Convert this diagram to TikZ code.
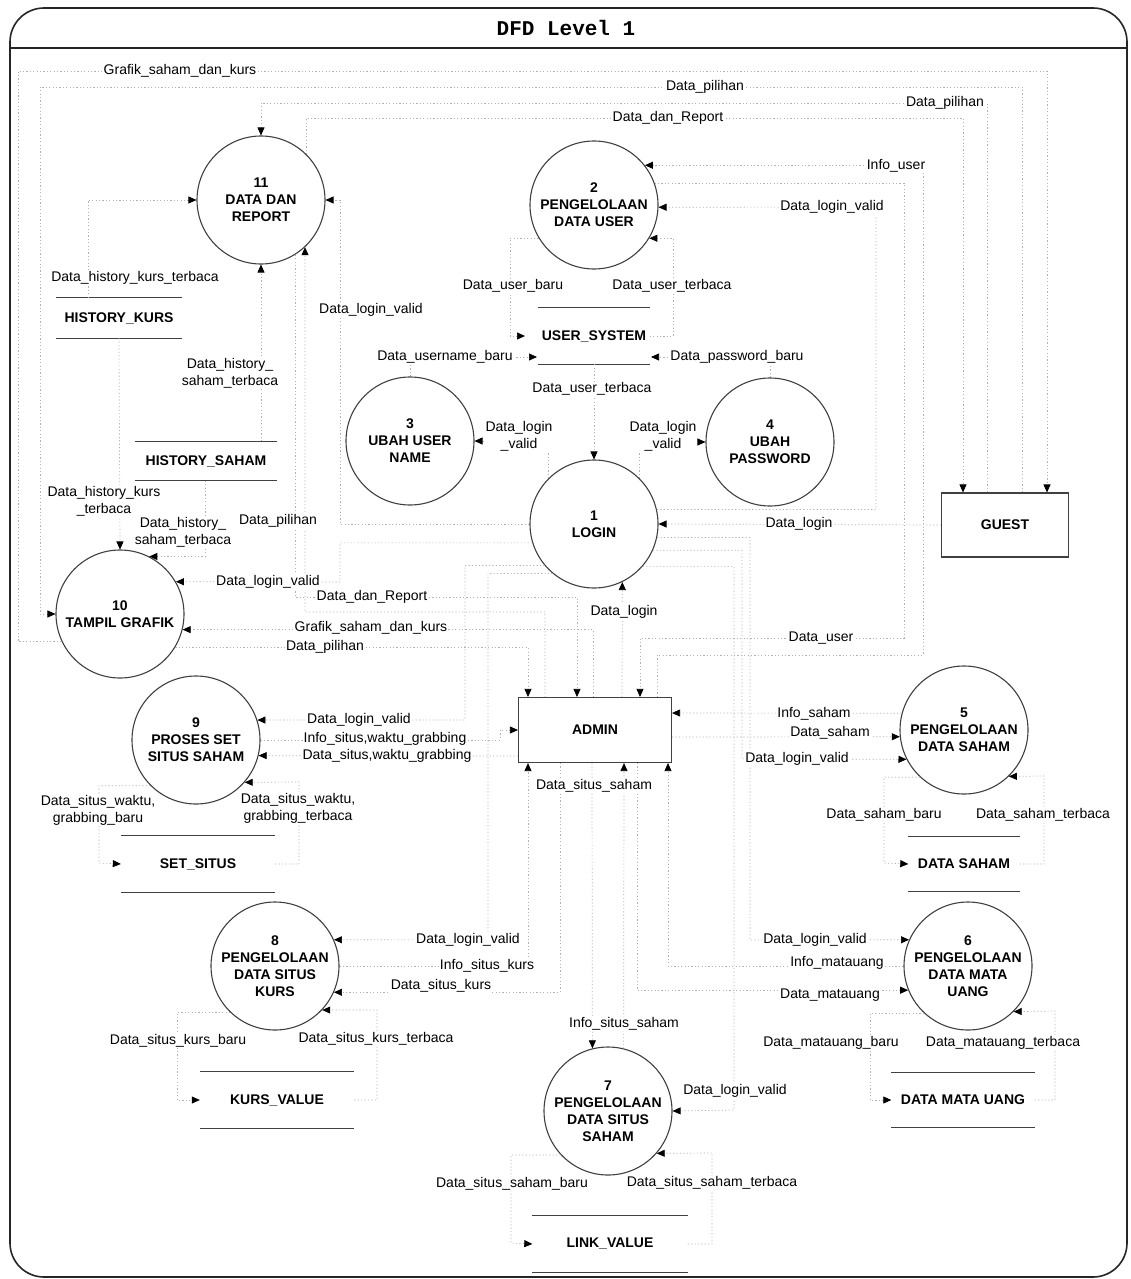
\documentclass[tikz,border=0pt]{standalone}
\usepackage{fontspec}
\setmainfont{Liberation Sans}
\newfontfamily\titlefont{Liberation Mono}
\usetikzlibrary{arrows.meta}
\newcommand{\dfdfont}{\fontsize{14}{17}\selectfont}
\tikzset{
  proc/.style={circle,draw=black!75,line width=1.1pt,minimum size=128pt,inner sep=0pt,align=center,font=\dfdfont\bfseries},
  entity/.style={rectangle,draw=black!75,line width=1.1pt,font=\dfdfont\bfseries},
  store/.style={inner sep=0pt,font=\dfdfont\bfseries},
  storeline/.style={draw=black!75,line width=0.9pt},
  flow/.style={draw=gray!60,line width=0.7pt,dash pattern=on 1.2pt off 2.2pt},
  flowarr/.style={flow,-{Triangle[length=8pt,width=7pt,color=black]}},
  flowlbl/.style={fill=white,inner sep=1pt,align=center,font=\dfdfont},
}
\begin{document}
\begin{tikzpicture}[x=1pt,y=-1pt]
\useasboundingbox (0,0) rectangle (1130,1279);
\draw[line width=1.6pt,black!85,rounded corners=34pt] (10,8) rectangle (1127,1277);
\draw[line width=1.6pt,black!85] (10,48) -- (1127,48);
\node (title) at (566,28) {\titlefont\bfseries\fontsize{21}{24}\selectfont DFD Level 1};

\node[proc] (p11) at (261,200) {11\\DATA DAN\\REPORT};
\node[proc] (p2) at (594,205) {2\\PENGELOLAAN\\DATA USER};
\node[proc] (p3) at (410,441) {3\\UBAH USER\\NAME};
\node[proc] (p4) at (770,442) {4\\UBAH\\PASSWORD};
\node[proc] (p1) at (594,524) {1\\LOGIN};
\node[proc] (p10) at (120,614) {10\\TAMPIL GRAFIK};
\node[proc] (p9) at (196,740) {9\\PROSES SET\\SITUS SAHAM};
\node[proc] (p5) at (964,730) {5\\PENGELOLAAN\\DATA SAHAM};
\node[proc] (p6) at (968,966) {6\\PENGELOLAAN\\DATA MATA\\UANG};
\node[proc] (p8) at (275,966) {8\\PENGELOLAAN\\DATA SITUS\\KURS};
\node[proc] (p7) at (608,1111) {7\\PENGELOLAAN\\DATA SITUS\\SAHAM};

\node[entity,minimum width=127pt,minimum height=64pt] (guest) at (1005,525) {GUEST};
\node[entity,minimum width=153pt,minimum height=65pt] (admin) at (595,730) {ADMIN};

\node[store,minimum width=125pt,minimum height=40pt] (sHK) at (119,318) {HISTORY\_KURS};
\node[store,minimum width=142pt,minimum height=39pt] (sHSa) at (206,461) {HISTORY\_SAHAM};
\node[store,minimum width=111pt,minimum height=56pt] (sUS) at (594,336) {USER\_SYSTEM};
\node[store,minimum width=154pt,minimum height=56pt] (sSS) at (198,864) {SET\_SITUS};
\node[store,minimum width=111pt,minimum height=55pt] (sDS) at (964,864) {DATA SAHAM};
\node[store,minimum width=143pt,minimum height=55pt] (sDM) at (963,1100) {DATA MATA UANG};
\node[store,minimum width=154pt,minimum height=56pt] (sKV) at (277,1100) {KURS\_VALUE};
\node[store,minimum width=155pt,minimum height=56pt] (sLV) at (610,1244) {LINK\_VALUE};
\foreach \s in {sHK,sHSa,sUS,sSS,sDS,sDM,sKV,sLV}
  \draw[storeline] (\s.north west) -- (\s.north east) (\s.south west) -- (\s.south east);

\coordinate (usIn) at (525,336);
\coordinate (usBL) at (537,357);
\coordinate (usBR) at (651,357);

\draw[flowarr] (p10.205) -| (18,71) -| (1047,0 |- guest.north);
\draw[flowarr] (1022,0 |- guest.north) |- (40,87) |- (p10.west);
\draw[flowarr] (987,0 |- guest.north) |- (261,103) -- (p11.north);
\draw[flowarr] (p11.45) |- (963,118) -- (963,0 |- guest.north);

\draw[flowarr] (88,0 |- sHK.north) |- (p11.west);
\draw[flowarr] (sHK.south) -- (p10.north);
\draw[flowarr] (205,0 |- sHSa.south) |- (p10.63);
\draw[flowarr] (261,0 |- sHSa.north) -- (p11.south);

\draw[flowarr] (p2.211) -| (510,336) -- (usIn);
\draw[flowarr] (sUS.east) -- (673,336) |- (p2.-31);
\draw[flowarr] (p3.north) |- (usBL);
\draw[flowarr] (p4.north) |- (usBR);
\draw[flowarr] (sUS.south) -- (p1.north);

\draw[flowarr] (guest.west) -- (p1.east);
\draw[flowarr] (622,0 |- admin.north) -- (p1.-64);
\draw[flowarr] (p1.west) -| (340,200) -- (p11.east);
\draw[flowarr] (p1.197) -| (340,582) -- (p10.30);
\draw[flowarr] (p1.13) -| (876,207) -- (p2.-2);
\draw[flowarr] (p1.135) |- (p3.east);
\draw[flowarr] (p1.45) |- (p4.west);
\draw[flowarr] (p1.220) -| (465,720) -- (p9.18);
\draw[flowarr] (p1.230) -| (488,940) -- (p8.24);
\draw[flowarr] (p1.-24) -| (742,759) -- (p5.207);
\draw[flowarr] (p1.-12) -| (750,940) -- (p6.156);
\draw[flowarr] (p1.-41) -| (734,1110) -- (p7.east);

\draw[flowarr] (p2.20) -| (904,638) -| (640,0 |- admin.north);
\draw[flowarr] (657,0 |- admin.north) |- (923,655) |- (p2.38);
\draw[flowarr] (p11.-58) |- (577,597) -- (577,0 |- admin.north);
\draw[flowarr] (545,0 |- admin.north) |- (305,612) -- (p11.-47);
\draw[flowarr] (593,0 |- admin.north) |- (p10.-14);
\draw[flowarr] (p10.-31) -| (528,0 |- admin.north);

\draw[flowarr] (p9.east) -- (500,740) |- (admin.west);
\draw[flowarr] (admin.west |- 0,756) -- (p9.-14);
\draw[flowarr] (p9.225) -| (99,863) -- (sSS.west);
\draw[flowarr] (sSS.east) -| (299,782) -- (p9.-41);

\draw[flowarr] (p8.east) -| (528,0 |- admin.south);
\draw[flowarr] (560,0 |- admin.south) |- (p8.-24);
\draw[flowarr] (p8.226) -| (177,1100) -- (sKV.west);
\draw[flowarr] (sKV.east) -| (377,1010) -- (p8.-43);

\draw[flowarr] (592,0 |- admin.south) -- (p7.104);
\draw[flowarr] (p7.76) -- (624,0 |- admin.south);
\draw[flowarr] (p7.223) -| (511,1243) -- (sLV.west);
\draw[flowarr] (sLV.east) -| (712,1153) -- (p7.-41);

\draw[flowarr] (p5.165) -- (admin.east |- 0,713);
\draw[flowarr] (admin.east |- 0,737) -- (p5.186);
\draw[flowarr] (p5.227) -| (884,863) -- (sDS.west);
\draw[flowarr] (sDS.east) -| (1044,776) -- (p5.-46);

\draw[flowarr] (p6.west) -| (668,0 |- admin.south);
\draw[flowarr] (637,0 |- admin.south) |- (p6.202);
\draw[flowarr] (p6.227) -| (870,1100) -- (sDM.west);
\draw[flowarr] (sDM.east) -| (1055,1011) -- (p6.-45);

\node[flowlbl] (lGrafikTop) at (180,71) {Grafik\_saham\_dan\_kurs};
\node[flowlbl] (lPilihanA) at (705,87) {Data\_pilihan};
\node[flowlbl] (lPilihanB) at (945,103) {Data\_pilihan};
\node[flowlbl] (lReportTop) at (668,118) {Data\_dan\_Report};
\node[flowlbl] (lInfoUser) at (896,166) {Info\_user};
\node[flowlbl] (lValid2) at (832,207) {Data\_login\_valid};
\node[flowlbl] (lUserBaru) at (513,286) {Data\_user\_baru};
\node[flowlbl] (lUserBaca) at (672,286) {Data\_user\_terbaca};
\node[flowlbl] (lValid11) at (371,310) {Data\_login\_valid};
\node[flowlbl] (lHKbaca) at (135,278) {Data\_history\_kurs\_terbaca};
\node[flowlbl] (lHSbaca) at (230,373) {Data\_history\_\\saham\_terbaca};
\node[flowlbl] (lUname) at (445,357) {Data\_username\_baru};
\node[flowlbl] (lPass) at (737,357) {Data\_password\_baru};
\node[flowlbl] (lUserBaca2) at (592,389) {Data\_user\_terbaca};
\node[flowlbl] (lValid3) at (519,436) {Data\_login\\\_valid};
\node[flowlbl] (lValid4) at (663,436) {Data\_login\\\_valid};
\node[flowlbl] (lHKbaca2) at (104,501) {Data\_history\_kurs\\\_terbaca};
\node[flowlbl] (lHSbaca2) at (183,532) {Data\_history\_\\saham\_terbaca};
\node[flowlbl] (lPilihanC) at (278,521) {Data\_pilihan};
\node[flowlbl] (lLogin) at (799,524) {Data\_login};
\node[flowlbl] (lValid10) at (268,582) {Data\_login\_valid};
\node[flowlbl] (lReport) at (372,597) {Data\_dan\_Report};
\node[flowlbl] (lGrafik) at (371,628) {Grafik\_saham\_dan\_kurs};
\node[flowlbl] (lPilihanD) at (325,647) {Data\_pilihan};
\node[flowlbl] (lLogin2) at (624,612) {Data\_login};
\node[flowlbl] (lUser) at (821,638) {Data\_user};
\node[flowlbl] (lValid9) at (359,720) {Data\_login\_valid};
\node[flowlbl] (lInfoSitus) at (385,739) {Info\_situs,waktu\_grabbing};
\node[flowlbl] (lDataSitus) at (387,756) {Data\_situs,waktu\_grabbing};
\node[flowlbl] (lSitusBaru) at (98,810) {Data\_situs\_waktu,\\grabbing\_baru};
\node[flowlbl] (lSitusBaca) at (298,808) {Data\_situs\_waktu,\\grabbing\_terbaca};
\node[flowlbl] (lSitusSaham) at (594,786) {Data\_situs\_saham};
\node[flowlbl] (lInfoSaham) at (814,714) {Info\_saham};
\node[flowlbl] (lSaham) at (830,733) {Data\_saham};
\node[flowlbl] (lValid5) at (797,759) {Data\_login\_valid};
\node[flowlbl] (lSahamBaru) at (884,815) {Data\_saham\_baru};
\node[flowlbl] (lSahamBaca) at (1043,815) {Data\_saham\_terbaca};
\node[flowlbl] (lValid6) at (815,940) {Data\_login\_valid};
\node[flowlbl] (lInfoMU) at (837,963) {Info\_matauang};
\node[flowlbl] (lMU) at (830,995) {Data\_matauang};
\node[flowlbl] (lMUbaru) at (831,1043) {Data\_matauang\_baru};
\node[flowlbl] (lMUbaca) at (1003,1043) {Data\_matauang\_terbaca};
\node[flowlbl] (lValid8) at (468,940) {Data\_login\_valid};
\node[flowlbl] (lInfoKurs) at (487,966) {Info\_situs\_kurs};
\node[flowlbl] (lKurs) at (441,986) {Data\_situs\_kurs};
\node[flowlbl] (lKursBaru) at (178,1041) {Data\_situs\_kurs\_baru};
\node[flowlbl] (lKursBaca) at (376,1039) {Data\_situs\_kurs\_terbaca};
\node[flowlbl] (lInfoSS) at (624,1024) {Info\_situs\_saham};
\node[flowlbl] (lValid7) at (735,1091) {Data\_login\_valid};
\node[flowlbl] (lSSbaru) at (512,1184) {Data\_situs\_saham\_baru};
\node[flowlbl] (lSSbaca) at (712,1183) {Data\_situs\_saham\_terbaca};
\end{tikzpicture}
\end{document}
